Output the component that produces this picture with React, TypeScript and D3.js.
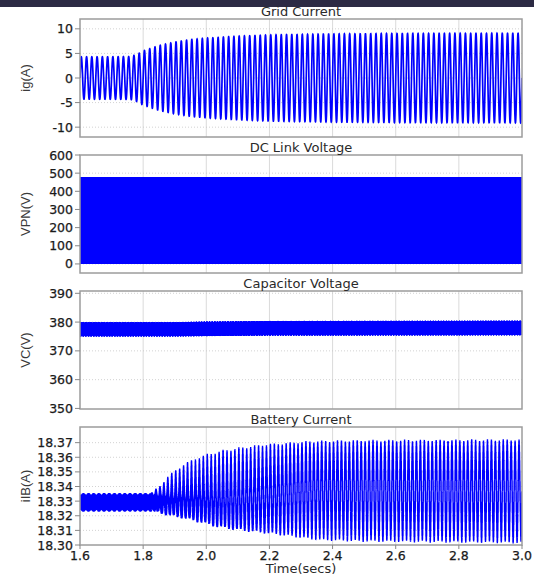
import React from "react";
import * as d3 from "d3";

const WIDTH = 534;
const HEIGHT = 578;

// Shared time axis (seconds)
const timeDomain: [number, number] = [1.6, 3.0];
const timeTicks = [1.6, 1.8, 2.0, 2.2, 2.4, 2.6, 2.8, 3.0];

// Grid current: 60 Hz sine, peak amplitude envelope (A)
const gridFreq = 60;
const gridEnvTime = [1.6, 1.76, 1.78, 1.8, 1.85, 1.9, 1.95, 2.0, 2.1, 2.2, 2.4, 2.6, 3.0];
const gridEnvAmp = [4.3, 4.35, 4.8, 5.5, 6.6, 7.3, 7.8, 8.1, 8.5, 8.75, 8.95, 9.05, 9.1];
const gridTicks = [-10, -5, 0, 5, 10];

// DC link voltage: PWM between two levels (V)
const dcLinkLevels = [0, 475];
const dcLinkTicks = [0, 100, 200, 300, 400, 500, 600];

// Capacitor voltage ripple band (V)
const capTime = [1.6, 1.9, 2.0, 2.2, 3.0];
const capUpper = [380.0, 380.0, 380.2, 380.4, 380.5];
const capLower = [375.0, 375.0, 375.1, 375.3, 375.4];
const capTicks = [350, 360, 370, 380, 390];

// Battery current envelopes (A)
const batTime = [1.6, 1.82, 1.85, 1.875, 1.93, 1.98, 2.03, 2.09, 2.14, 2.19, 2.24, 2.3, 2.35, 2.5, 3.0];
const batUpper = [18.3356, 18.3356, 18.34, 18.347, 18.356, 18.361, 18.3642, 18.3665, 18.368, 18.3694, 18.37, 18.371, 18.3715, 18.372, 18.3725];
const batLower = [18.3227, 18.3228, 18.3215, 18.32, 18.3177, 18.315, 18.312, 18.31, 18.3087, 18.3075, 18.3063, 18.3045, 18.303, 18.302, 18.301];
const batRipple = [0.0064, 0.0064, 0.0064, 0.0064, 0.007, 0.0075, 0.0078, 0.0075, 0.0072, 0.0068, 0.0064, 0.0062, 0.006, 0.0058, 0.0057];
const batShape = [2.2, 2.2, 2.2, 2.2, 2.2, 2.1, 2.0, 1.8, 1.6, 1.4, 1.25, 1.1, 1.0, 1, 1];
const batTicks = [18.3, 18.31, 18.32, 18.33, 18.34, 18.35, 18.36, 18.37];
const batLowFreq = 80;
const rippleFreq = 2000;

const LEFT = 80;
const RIGHT = 522;
const PANEL_H = 118;
const PANEL_STEP = 136;
const FIRST_TOP = 19;
const BLUE = "#0000ff";

type Panel = {
  title: string;
  ylabel: string;
  domain: [number, number];
  ticks: number[];
  fmt: (v: number) => string;
  data: [number, number][];
  strokeWidth: number;
};

const envelope = (times: number[], vals: number[]) =>
  d3.scaleLinear().domain(times).range(vals).clamp(true);

function sampleTimes(n: number): number[] {
  return d3.range(n + 1).map((i) => timeDomain[0] + ((timeDomain[1] - timeDomain[0]) * i) / n);
}

function gridSeries(): [number, number][] {
  const amp = envelope(gridEnvTime, gridEnvAmp);
  return sampleTimes(9000).map((t) => [t, amp(t) * Math.sin(2 * Math.PI * gridFreq * (t - timeDomain[0]))]);
}

function dcLinkSeries(): [number, number][] {
  return sampleTimes(7000).map((t, i) => [t, dcLinkLevels[i % 2]]);
}

function capSeries(): [number, number][] {
  const up = envelope(capTime, capUpper);
  const lo = envelope(capTime, capLower);
  return sampleTimes(24000).map((t) => {
    const mid = (up(t) + lo(t)) / 2;
    const half = (up(t) - lo(t)) / 2;
    const mod = 0.94 + 0.06 * Math.sin(2 * Math.PI * 120 * t);
    return [t, mid + half * mod * Math.sin(2 * Math.PI * 1530 * t)];
  });
}

function batterySeries(): [number, number][] {
  const up = envelope(batTime, batUpper);
  const lo = envelope(batTime, batLower);
  const rp = envelope(batTime, batRipple);
  const sh = envelope(batTime, batShape);
  return sampleTimes(32000).map((t) => {
    const r = rp(t);
    const lb = lo(t) + r;
    const ub = Math.max(lb, up(t) - r);
    const phase = (1 + Math.sin(2 * Math.PI * batLowFreq * (t - timeDomain[0]))) / 2;
    const base = lb + (ub - lb) * Math.pow(phase, sh(t));
    const mod = 0.9 + 0.1 * Math.sin(2 * Math.PI * 61 * t);
    return [t, base + r * mod * Math.sin(2 * Math.PI * rippleFreq * t)];
  });
}

const panels: Panel[] = [
  {
    title: "Grid Current",
    ylabel: "ig(A)",
    domain: [-12, 12],
    ticks: gridTicks,
    fmt: (v) => String(v),
    data: gridSeries(),
    strokeWidth: 1.7,
  },
  {
    title: "DC Link Voltage",
    ylabel: "VPN(V)",
    domain: [-50, 600],
    ticks: dcLinkTicks,
    fmt: (v) => String(v),
    data: dcLinkSeries(),
    strokeWidth: 1,
  },
  {
    title: "Capacitor Voltage",
    ylabel: "VC(V)",
    domain: [349.8, 390.8],
    ticks: capTicks,
    fmt: (v) => String(v),
    data: capSeries(),
    strokeWidth: 1,
  },
  {
    title: "Battery Current",
    ylabel: "iIB(A)",
    domain: [18.3, 18.3807],
    ticks: batTicks,
    fmt: (v) => v.toFixed(2),
    data: batterySeries(),
    strokeWidth: 1.4,
  },
];

export default function App() {
  const x = d3.scaleLinear().domain(timeDomain).range([LEFT, RIGHT]);
  const font = "'DejaVu Sans', Verdana, sans-serif";

  return (
    <svg
      width={WIDTH}
      height={HEIGHT}
      style={{ position: "absolute", left: 0, top: 0, background: "#fff" }}
      fontFamily={font}
    >
      <rect x={0} y={0} width={WIDTH} height={7} fill="#2c2a44" />
      <defs>
        {panels.map((p, i) => {
          const top = FIRST_TOP + i * PANEL_STEP;
          return (
            <clipPath id={`clip-${i}`} key={i}>
              <rect x={LEFT} y={top} width={RIGHT - LEFT} height={PANEL_H} />
            </clipPath>
          );
        })}
      </defs>
      {panels.map((p, i) => {
        const top = FIRST_TOP + i * PANEL_STEP;
        const bottom = top + PANEL_H;
        const y = d3.scaleLinear().domain(p.domain).range([bottom, top]);
        const line = d3
          .line<[number, number]>()
          .x((d) => x(d[0]))
          .y((d) => y(d[1]));
        const cy = (top + bottom) / 2;
        return (
          <g key={i}>
            {/* grid */}
            {timeTicks.slice(1, -1).map((t) => (
              <line
                key={`gx${t}`}
                x1={x(t)}
                x2={x(t)}
                y1={top}
                y2={bottom}
                stroke="#d6d6d6"
                strokeWidth={0.9}
              />
            ))}
            {p.ticks
              .filter((v) => y(v) > top + 1 && y(v) < bottom - 1)
              .map((v) => (
                <line
                  key={`gy${v}`}
                  x1={LEFT}
                  x2={RIGHT}
                  y1={y(v)}
                  y2={y(v)}
                  stroke="#c8c8c8"
                  strokeWidth={0.8}
                  strokeDasharray="1,2"
                />
              ))}
            {/* signal */}
            <path
              d={line(p.data) ?? ""}
              fill="none"
              stroke={BLUE}
              strokeWidth={p.strokeWidth}
              clipPath={`url(#clip-${i})`}
            />
            {/* frame */}
            <rect
              x={LEFT}
              y={top}
              width={RIGHT - LEFT}
              height={PANEL_H}
              fill="none"
              stroke="#9c9c9c"
              strokeWidth={1.5}
            />
            {/* y ticks */}
            {p.ticks.map((v) => (
              <g key={`ty${v}`}>
                <line x1={LEFT - 5} x2={LEFT} y1={y(v)} y2={y(v)} stroke="#888" strokeWidth={1} />
                <text
                  x={LEFT - 7}
                  y={y(v)}
                  dy="0.36em"
                  textAnchor="end"
                  fontSize={12.5}
                  fill="#1a1a1a"
                  stroke="#1a1a1a"
                  strokeWidth={0.25}
                >
                  {p.fmt(v)}
                </text>
              </g>
            ))}
            <text x={301} y={top - 3} textAnchor="middle" fontSize={13} fill="#2a2a2a">
              {p.title}
            </text>
            <text
              transform={`translate(30,${cy}) rotate(-90)`}
              textAnchor="middle"
              fontSize={13}
              fontFamily="'Liberation Sans', Arial, sans-serif"
              fill="#3a3a3a"
            >
              {p.ylabel}
            </text>
            {i === panels.length - 1 &&
              timeTicks.map((t) => (
                <g key={`tx${t}`}>
                  <line x1={x(t)} x2={x(t)} y1={bottom} y2={bottom + 4} stroke="#888" strokeWidth={1} />
                  <text
                    x={x(t)}
                    y={bottom + 15}
                    textAnchor="middle"
                    fontSize={12.5}
                    fill="#1a1a1a"
                    stroke="#1a1a1a"
                    strokeWidth={0.25}
                  >
                    {t.toFixed(1)}
                  </text>
                </g>
              ))}
          </g>
        );
      })}
      <text x={301} y={573} textAnchor="middle" fontSize={13} fill="#2a2a2a">
        Time(secs)
      </text>
    </svg>
  );
}
